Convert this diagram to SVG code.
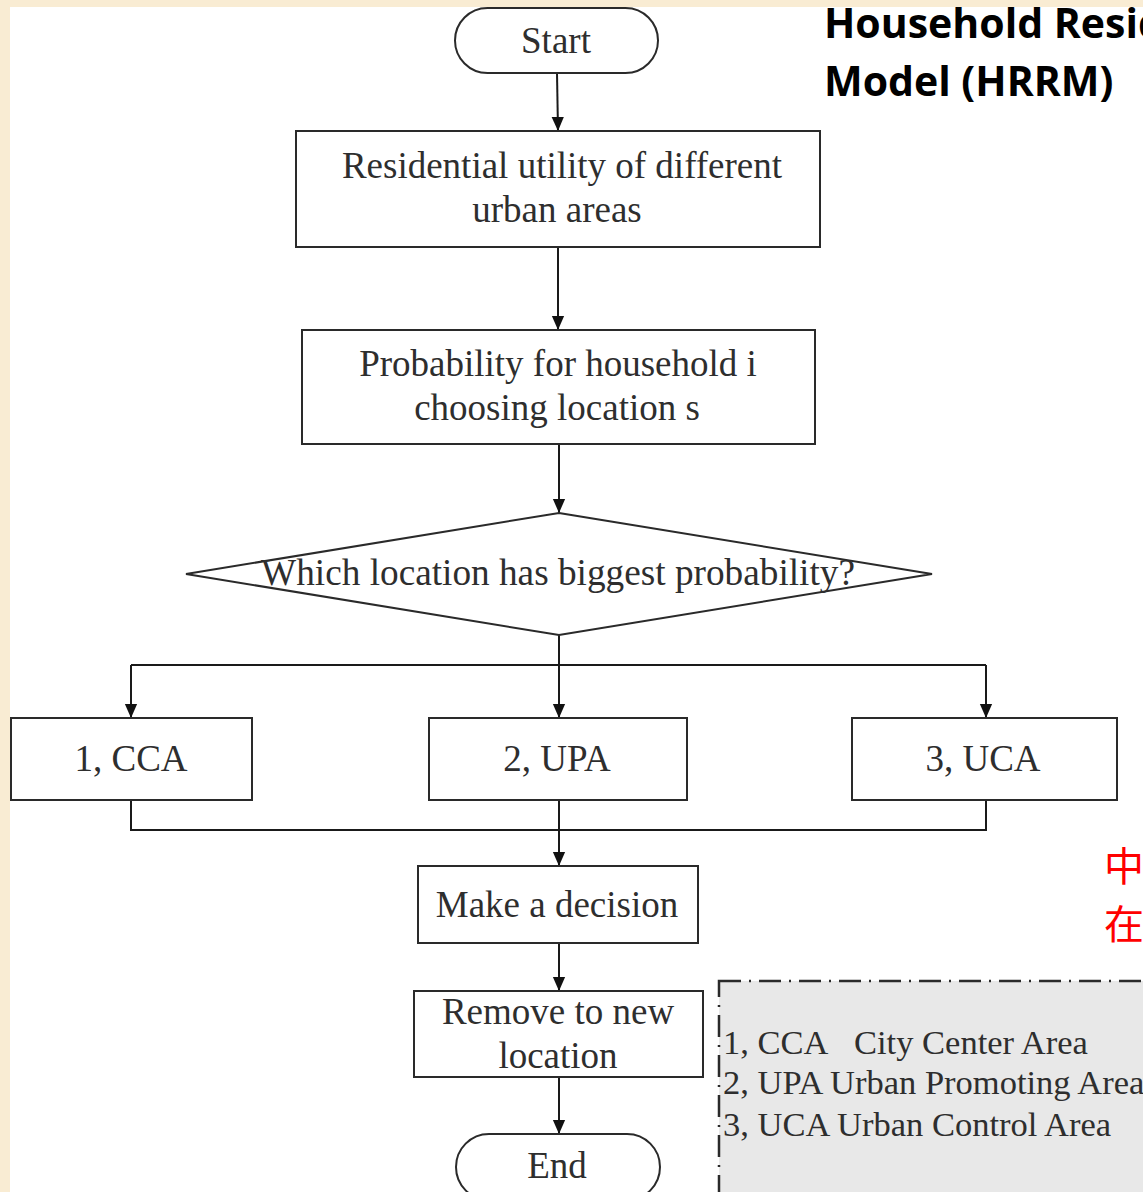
<svg xmlns="http://www.w3.org/2000/svg" width="1143" height="1192" viewBox="0 0 1143 1192">
  <defs>
    <marker id="tri" markerWidth="14" markerHeight="16" refX="16" refY="7" orient="auto" markerUnits="userSpaceOnUse" viewBox="0 0 16 14">
      <path d="M0,0 L16,7 L0,14 Z" fill="#111"/>
    </marker>
  </defs>
  <style>
    .box { fill: #fff; stroke: #2a2a2a; stroke-width: 2; }
    .lbl { font-family: "Liberation Serif", "Times New Roman", serif; font-size: 37px; fill: #2e2e2e; text-anchor: middle; }
    .leg { font-family: "Liberation Serif", "Times New Roman", serif; font-size: 34.5px; fill: #2e2e2e; }
    .conn { fill: none; stroke: #1a1a1a; stroke-width: 2; }
    .title { font-family: "Open Sans", "DejaVu Sans", sans-serif; font-weight: bold; font-size: 41px; fill: #000; }
    .cjk { font-family: "Noto Sans CJK SC", sans-serif; font-size: 40px; fill: #ff0000; }
  </style>

  <!-- page background with beige frame -->
  <rect x="0" y="0" width="1143" height="1192" fill="#F9ECD3"/>
  <rect x="10" y="7" width="1133" height="1185" fill="#ffffff"/>

  <!-- heading -->
  <text class="title" x="824" y="38">Household Resid</text>
  <text class="title" x="824" y="96">Model (HRRM)</text>

  <!-- side note (red) -->
  <text class="cjk" x="1104" y="881">中</text>
  <text class="cjk" x="1104" y="939">在</text>

  <!-- connectors -->
  <g id="connectors">
    <line class="conn" x1="557" y1="73" x2="558" y2="131" marker-end="url(#tri)"/>
    <line class="conn" x1="558" y1="247" x2="558" y2="330" marker-end="url(#tri)"/>
    <line class="conn" x1="559" y1="444" x2="559" y2="513" marker-end="url(#tri)"/>
    <line class="conn" x1="559" y1="635" x2="559" y2="665"/>
    <line class="conn" x1="131" y1="665" x2="986" y2="665"/>
    <line class="conn" x1="131" y1="665" x2="131" y2="718" marker-end="url(#tri)"/>
    <line class="conn" x1="559" y1="665" x2="559" y2="718" marker-end="url(#tri)"/>
    <line class="conn" x1="986" y1="665" x2="986" y2="718" marker-end="url(#tri)"/>
    <polyline class="conn" points="131,800 131,830 986,830 986,800"/>
    <line class="conn" x1="559" y1="800" x2="559" y2="866" marker-end="url(#tri)"/>
    <line class="conn" x1="559" y1="943" x2="559" y2="991" marker-end="url(#tri)"/>
    <line class="conn" x1="559" y1="1077" x2="559" y2="1134" marker-end="url(#tri)"/>
  </g>

  <!-- nodes -->
  <g id="start">
    <rect class="box" x="455" y="8" width="203" height="65" rx="32.5"/>
    <text class="lbl" x="556" y="53">Start</text>
  </g>
  <g id="utility">
    <rect class="box" x="296" y="131" width="524" height="116"/>
    <text class="lbl" x="562" y="178">Residential utility of different</text>
    <text class="lbl" x="557" y="222">urban areas</text>
  </g>
  <g id="probability">
    <rect class="box" x="302" y="330" width="513" height="114"/>
    <text class="lbl" x="558" y="376">Probability for household i</text>
    <text class="lbl" x="557" y="420">choosing location s</text>
  </g>
  <g id="decision-which">
    <polygon class="box" points="559,513 932,574 559,635 186,574"/>
    <text class="lbl" x="558" y="585" textLength="594" lengthAdjust="spacingAndGlyphs">Which location has biggest probability?</text>
  </g>
  <g id="cca">
    <rect class="box" x="11" y="718" width="241" height="82"/>
    <text class="lbl" x="131" y="771">1, CCA</text>
  </g>
  <g id="upa">
    <rect class="box" x="429" y="718" width="258" height="82"/>
    <text class="lbl" x="557" y="771">2, UPA</text>
  </g>
  <g id="uca">
    <rect class="box" x="852" y="718" width="265" height="82"/>
    <text class="lbl" x="983" y="771">3, UCA</text>
  </g>
  <g id="make-decision">
    <rect class="box" x="418" y="866" width="280" height="77"/>
    <text class="lbl" x="557" y="917">Make a decision</text>
  </g>
  <g id="remove">
    <rect class="box" x="414" y="991" width="289" height="86"/>
    <text class="lbl" x="558" y="1024">Remove to new</text>
    <text class="lbl" x="558" y="1068">location</text>
  </g>
  <g id="end">
    <rect class="box" x="456" y="1134" width="204" height="66" rx="33"/>
    <text class="lbl" x="557" y="1178">End</text>
  </g>

  <!-- legend -->
  <g id="legend">
    <rect x="719" y="981" width="440" height="228" fill="#E8E8E8" stroke="#2a2a2a" stroke-width="2.5" stroke-dasharray="22 8 2 8"/>
    <text class="leg" x="723" y="1054">1, CCA<tspan x="854">City Center Area</tspan></text>
    <text class="leg" x="723" y="1094">2, UPA Urban Promoting Area</text>
    <text class="leg" x="723" y="1136">3, UCA Urban Control Area</text>
  </g>
</svg>
